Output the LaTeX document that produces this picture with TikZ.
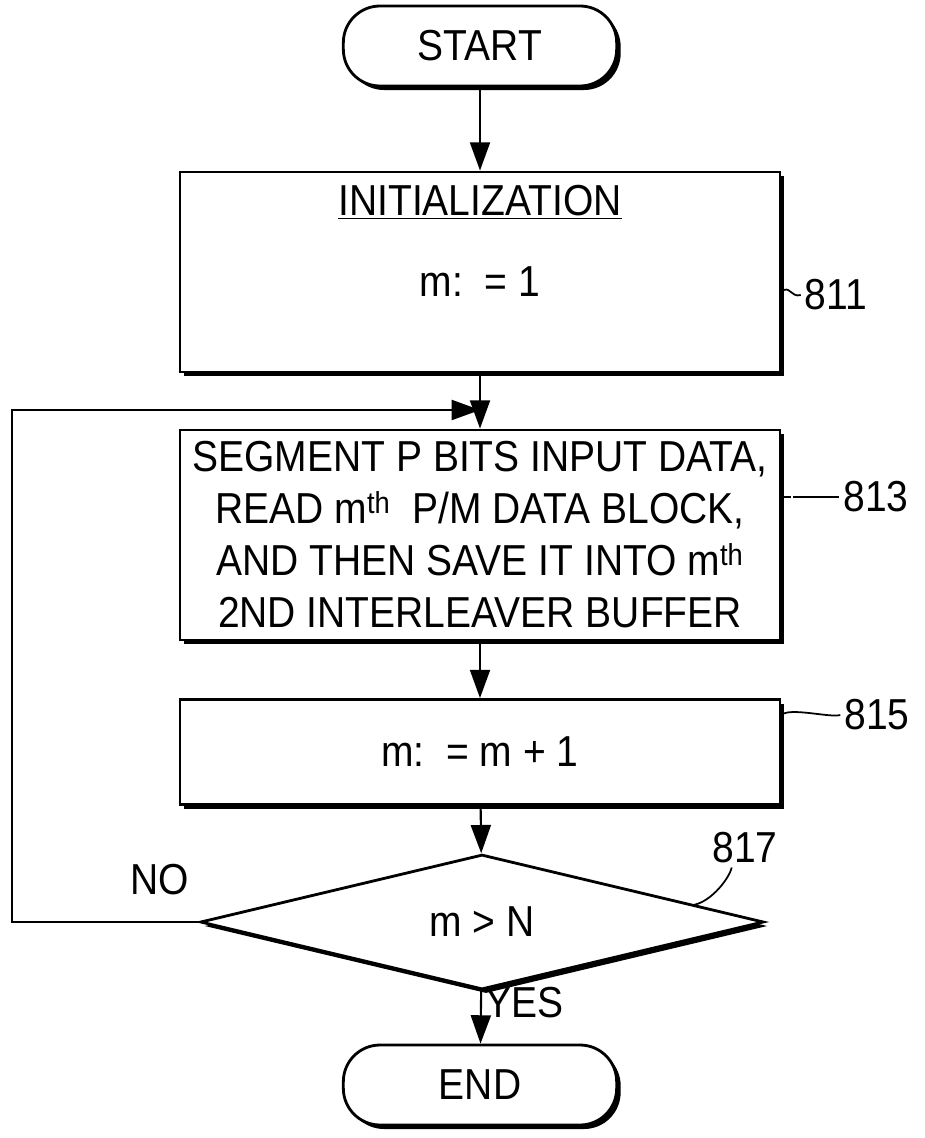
\documentclass[tikz,border=0pt]{standalone}
\usepackage{fontspec}
\setmainfont{Liberation Sans}[FakeStretch=0.9]
\usetikzlibrary{calc,shapes.geometric,shadows,arrows.meta}

\begin{document}
\begin{tikzpicture}[x=0.3mm, y=-0.3mm, font=\fontsize{37}{44.4}\selectfont]

    \tikzstyle{shade}=[drop shadow={shadow xshift=1.2mm, shadow yshift=-1.2mm, fill=black, opacity=1}];
    \tikzstyle{term}=[draw=black, line width=2.4pt, fill=white, rounded corners=11mm, minimum width=82mm, minimum height=24mm, shade];
    \tikzstyle{proc}=[draw=black, line width=2.4pt, fill=white, minimum width=180mm, inner sep=1mm, align=center, shade];
    \tikzstyle{decision}=[diamond, draw=black, line width=2.4pt, fill=white, minimum width=169mm, minimum height=31.5mm, inner sep=0pt, shade];
    \tikzstyle{flow}=[line width=1.8pt, -{Triangle[length=8.5mm, width=6mm]}];
    \tikzstyle{leader}=[line width=1.5pt];

    \useasboundingbox (0,0) rectangle (924,1138);

    \node[term] (start) at (480,46) {START};

    \node[proc, minimum height=60mm] (init) at (480,272) {};
    \node (inittitle) at (480,202) {\underline{INITIALIZATION}};
    \node (initval) at (480,282) {m:\ \ = 1};

    \node[proc, minimum height=63mm] (seg) at (480,535) {SEGMENT P BITS INPUT DATA,\\READ m\textsuperscript{th}\ \ P/M DATA BLOCK,\\AND THEN SAVE IT INTO m\textsuperscript{th}\\2ND INTERLEAVER BUFFER};

    \node[proc, minimum height=31.5mm] (incr) at (480,752) {m:\ \ = m + 1};

    \node[decision] (test) at (482,922) {m > N};

    \node[term] (stop) at (480,1085) {END};

    \node (no) at (160,880) {NO};

    \node (l811) at (836,295) {811};
    \node (l813) at (876,497) {813};
    \node (l815) at (877,715) {815};
    \node (l817) at (745,848) {817};

    \coordinate (loopturn) at (12,410);
    \coordinate (loopjoin) at (480,410);
    \coordinate (tick817) at ($(test.north)!0.75!(test.east)$);

    \draw (start) edge[flow] (init);
    \draw (init) edge[flow] (seg);
    \draw (seg) edge[flow] (incr);
    \draw (incr) edge[flow] (test);
    \draw (test) edge[flow] node[right, pos=0.22, inner sep=1mm] {YES} (stop);
    \draw[flow] (test.west) -| (loopturn) -- (loopjoin);

    \draw[leader] ($(init.east)+(0,20)$) .. controls +(8,-8) and +(-10,3) .. (l811.west);
    \draw[leader] ($(seg.east |- l813.west)+(12,0)$) -- (l813.west);
    \draw[leader] (seg.east |- l813.west) -- +(10,0);
    \draw[leader] ($(incr.east)+(0,-37)$) .. controls +(8,-8) and +(-10,3) .. (l815.west);
    \draw[leader] ([xshift=-4mm]l817.south) .. controls +(-2,10) and +(18,-4) .. (tick817);
\end{tikzpicture}
\end{document}
